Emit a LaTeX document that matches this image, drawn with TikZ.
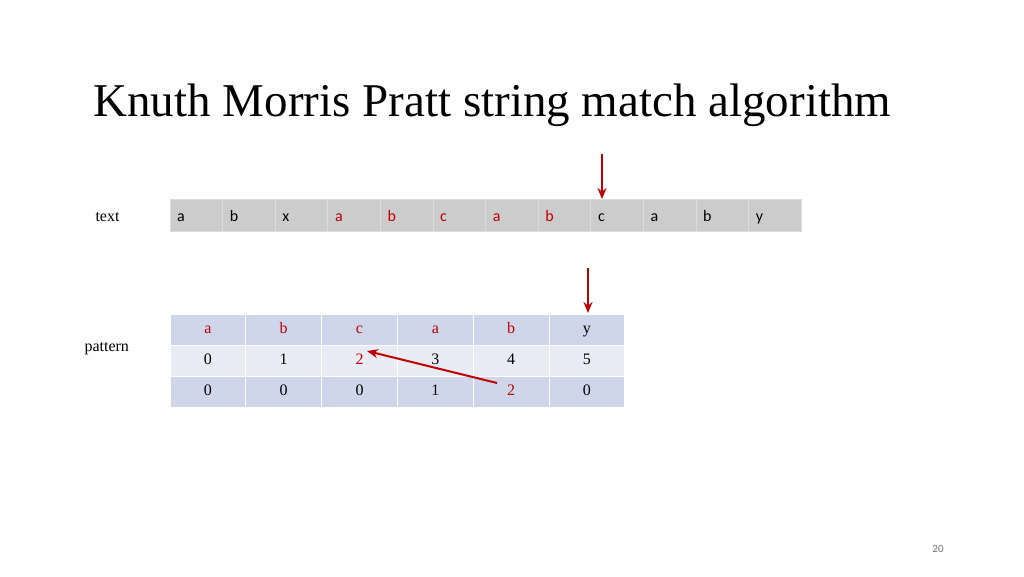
\documentclass[tikz,border=0pt]{standalone}
\usepackage{fontspec}
\usetikzlibrary{arrows.meta}
\setmainfont{Liberation Serif}
\newfontfamily\calfont{Carlito}
\begin{document}
\begin{tikzpicture}[x=1pt,y=-1pt,
  tcell/.style={fill=black!20,draw=black!14,line width=0.8pt,minimum width=52.6pt,minimum height=32pt,anchor=north west,inner sep=0pt,outer sep=0pt},
  pcell/.style={draw=white,line width=1pt,minimum width=75.8pt,minimum height=31pt,anchor=north west,inner sep=0pt,outer sep=0pt,font=\fontsize{16}{18}\selectfont,text height=11pt,text depth=3pt},
  redarrow/.style={draw={rgb,255:red,192;green,0;blue,0},line width=2pt,-{Stealth[length=11pt,width=9pt]}}]
\useasboundingbox (0,0) rectangle (1024,576);
\definecolor{hd}{RGB}{207,213,234}
\definecolor{lt}{RGB}{233,235,245}
\definecolor{rd}{RGB}{192,0,0}
\node[anchor=base west,font=\fontsize{47}{52}\selectfont] (title) at (90,116) {Knuth Morris Pratt string match algorithm};
\node[anchor=base west,font=\fontsize{16}{18}\selectfont] (tl) at (92,221) {text};
\node[anchor=base west,font=\fontsize{16}{18}\selectfont] (pl) at (81,351) {pattern};
\foreach \ch/\c [count=\i from 0] in {a/black,b/black,x/black,a/rd,b/rd,c/rd,a/rd,b/rd,c/black,a/black,b/black,y/black}{
  \node[tcell] (t\i) at ({170+52.6*\i},199) {};
  \node[anchor=base west,text=\c,font=\calfont\fontsize{16}{18}\selectfont,inner sep=0pt] at ({177+52.6*\i},221) {\ch};
}
\foreach \a/\b/\c/\col [count=\i from 0] in {a/0/0/rd,b/1/0/rd,c/2/0/rd,a/3/1/rd,b/4/2/rd,y/5/0/black}{
  \node[pcell,fill=hd,text=\col] (h\i) at ({170+75.8*\i},314) {\a};
  \node[pcell,fill=lt] (m\i) at ({170+75.8*\i},345) {\b};
  \node[pcell,fill=hd] (f\i) at ({170+75.8*\i},376) {\c};
}
\node[fill=lt,text=rd,font=\fontsize{16}{18}\selectfont,inner sep=1pt,text height=11pt,text depth=3pt] at (m2) {2};
\node[fill=hd,text=rd,font=\fontsize{16}{18}\selectfont,inner sep=1pt,text height=11pt,text depth=3pt] (f4t) at (f4) {2};
\coordinate (a1s) at (602,154);
\coordinate (a2s) at (588,268);
\draw[redarrow] (a1s) -- (602,199);
\draw[redarrow] (a2s) -- (588,313);
\draw[redarrow] (497,383) -- (367,351);
\node[text=black!55,font=\calfont\fontsize{11}{12}\selectfont] (pg) at (938,549) {20};
\end{tikzpicture}
\end{document}
